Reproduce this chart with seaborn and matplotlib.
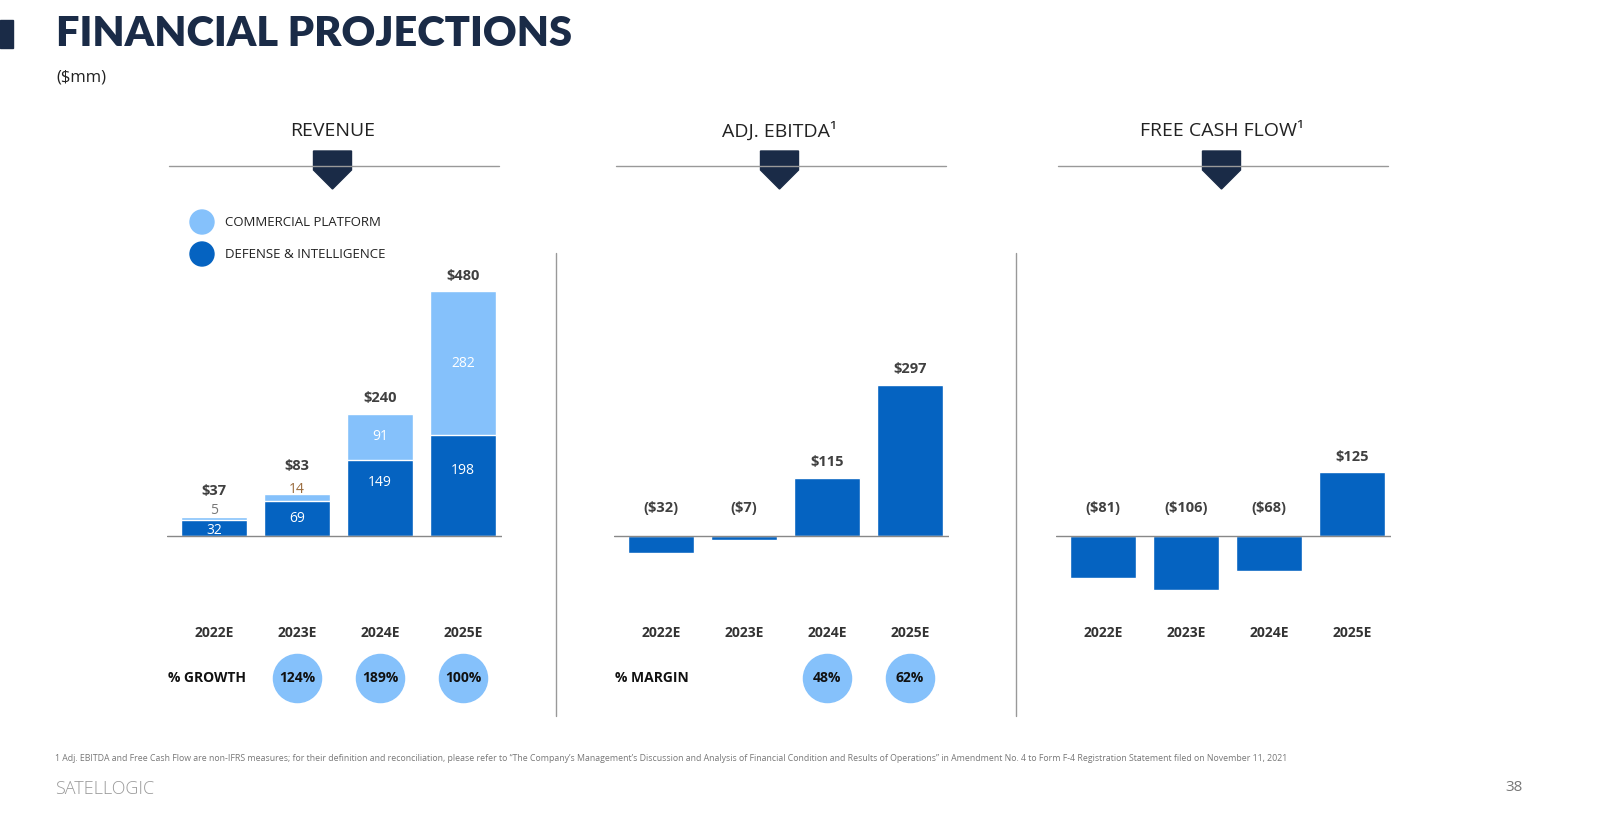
import numpy as np
import pandas as pd
import seaborn as sns
from matplotlib import pyplot as plt
from matplotlib.patches import Polygon, Rectangle, Ellipse
from matplotlib.lines import Line2D
import matplotlib.transforms as mtransforms

years = ["2022E", "2023E", "2024E", "2025E"]
defense = [32, 69, 149, 198]
commercial = [5, 14, 91, 282]
revenue = [37, 83, 240, 480]
ebitda = [-32, -7, 115, 297]
fcf = [-81, -106, -68, 125]
growth = ["", "124%", "189%", "100%"]
margin = ["", "", "48%", "62%"]

DARK = "#0563c1"
LIGHT = "#85c1fb"
NAVY = "#1a2b47"
GREY = "#404040"

sns.set_theme(style="white")
plt.rcParams["font.family"] = ["Open Sans", "DejaVu Sans"]

W, H = 1599, 822
fig = plt.figure(figsize=(W / 100, H / 100), dpi=100)

def fx(x):
    return x / W

def fy(y):
    return 1 - y / H

def money(v):
    return f"(${-v})" if v < 0 else f"${v}"

# header
fig.patches.append(Rectangle((0, fy(48)), fx(13), 28 / H, transform=fig.transFigure, color=NAVY))
fig.text(fx(56), fy(34), "FINANCIAL PROJECTIONS", fontsize=30, fontweight="heavy",
         color=NAVY, va="center", family=["Lato", "DejaVu Sans"])
fig.text(fx(56), fy(77), "($mm)", fontsize=12, color="#222222", va="center")

step = 83
ylim = (-125, 502)
centers = [214, 661, 1103]
titles = ["REVENUE", "ADJ. EBITDA¹", "FREE CASH FLOW¹"]
axes = []
for c0, t in zip(centers, titles):
    left = c0 - 0.57 * step
    ax = fig.add_axes([fx(left), fy(600), fx(4.04 * step), 320 / H])
    ax.set_xlim(-0.57, 3.47)
    ax.set_ylim(*ylim)
    ax.axis("off")
    ax.axhline(0, color="#888888", lw=1)
    axes.append(ax)
    mid = c0 + 1.5 * step - 6
    fig.text(fx(mid), fy(131), t, fontsize=14, color="#222222", ha="center", va="center")
    fig.add_artist(Line2D([fx(mid - 164), fx(mid + 166)], [fy(166), fy(166)], color="#999999", lw=1))
    pts = [(mid - 19, 151), (mid + 19, 151), (mid + 19, 170), (mid, 189), (mid - 19, 170)]
    fig.patches.append(Polygon([(fx(x), fy(y)) for x, y in pts], transform=fig.transFigure, color=NAVY))
    tr = mtransforms.blended_transform_factory(ax.transData, fig.transFigure)
    for i, yr in enumerate(years):
        ax.text(i, fy(633), yr, transform=tr, ha="center", va="center", fontsize=10,
                fontweight="bold", color="#333333")

# separators
for x in [556, 1016]:
    fig.add_artist(Line2D([fx(x), fx(x)], [fy(253), fy(716)], color="#999999", lw=1))

# revenue
ax = axes[0]
df = pd.DataFrame({"year": years, "total": revenue, "defense": defense})
sns.barplot(data=df, x="year", y="total", color=LIGHT, width=0.8, saturation=1, ax=ax,
            edgecolor="white", linewidth=1)
sns.barplot(data=df, x="year", y="defense", color=DARK, width=0.8, saturation=1, ax=ax,
            edgecolor="white", linewidth=1)
ax.set_xlim(-0.57, 3.47); ax.set_ylim(*ylim); ax.axis("off")
for i in range(4):
    if i < 2:
        # small bars: labels stacked above the bar
        top_lab = [88, 137][i]
        ax.text(i, top_lab, money(revenue[i]), ha="center", va="center", fontsize=10.5,
                fontweight="bold", color=GREY)
        ax.text(i, [51, 92][i], str(commercial[i]), ha="center", va="center", fontsize=10,
                color=["#777777", "#9a6b3c"][i])
        ax.text(i, [12, defense[i] / 2][i], str(defense[i]), ha="center", va="center",
                fontsize=10, color="white")
    else:
        ax.text(i, revenue[i] + 30, money(revenue[i]), ha="center", va="center", fontsize=10.5,
                fontweight="bold", color=GREY)
        ax.text(i, defense[i] / 2 + 30, str(defense[i]), ha="center", va="center",
                fontsize=10, color="white")
        ax.text(i, defense[i] + commercial[i] / 2, str(commercial[i]), ha="center", va="center",
                fontsize=10, color="white")

# ebitda / fcf
for ax, vals in [(axes[1], ebitda), (axes[2], fcf)]:
    sns.barplot(x=years, y=vals, color=DARK, width=0.8, saturation=1, ax=ax)
    ax.set_xlim(-0.57, 3.47); ax.set_ylim(*ylim); ax.axis("off")
    for i, v in enumerate(vals):
        y = v + 30 if v > 0 else 55
        ax.text(i, y, money(v), ha="center", va="center", fontsize=10.5, fontweight="bold", color=GREY)

# circles
for ax, labs, name in [(axes[0], growth, "% GROWTH"), (axes[1], margin, "% MARGIN")]:
    tr = mtransforms.blended_transform_factory(ax.transData, fig.transFigure)
    ax.text(-0.55, fy(678), name, transform=tr, ha="left", va="center", fontsize=10,
            fontweight="bold", color="#111111")
    for i, lab in enumerate(labs):
        if lab:
            ax.scatter([i], [fy(678)], transform=tr, s=1200, color=LIGHT, clip_on=False, zorder=3)
            ax.text(i, fy(678), lab, transform=tr, ha="center", va="center", fontsize=10,
                    fontweight="bold", color="#111111", zorder=4)

# legend
for y, col, lab in [(222, LIGHT, "COMMERCIAL PLATFORM"), (254, DARK, "DEFENSE & INTELLIGENCE")]:
    fig.patches.append(Ellipse((fx(202), fy(y)), 24 / W, 24 / H, transform=fig.transFigure, color=col))
    fig.text(fx(225), fy(y), lab, fontsize=9.5, color="#222222", va="center")

fig.text(fx(55), fy(758), "1 Adj. EBITDA and Free Cash Flow are non-IFRS measures; for their definition and reconciliation, "
         "please refer to \u201cThe Company\u2019s Management\u2019s Discussion and Analysis of Financial Condition and Results "
         "of Operations\u201d in Amendment No. 4 to Form F-4 Registration Statement filed on November 11, 2021",
         fontsize=6.3, color="#777777", va="center")
fig.text(fx(55), fy(789), "SATELLOGIC", fontsize=13, color="#9a9a9a", va="center", fontweight="light")
fig.text(fx(1523), fy(787), "38", fontsize=11, color="#777777", va="center", ha="right")

fig.savefig("out.png", dpi=100)
